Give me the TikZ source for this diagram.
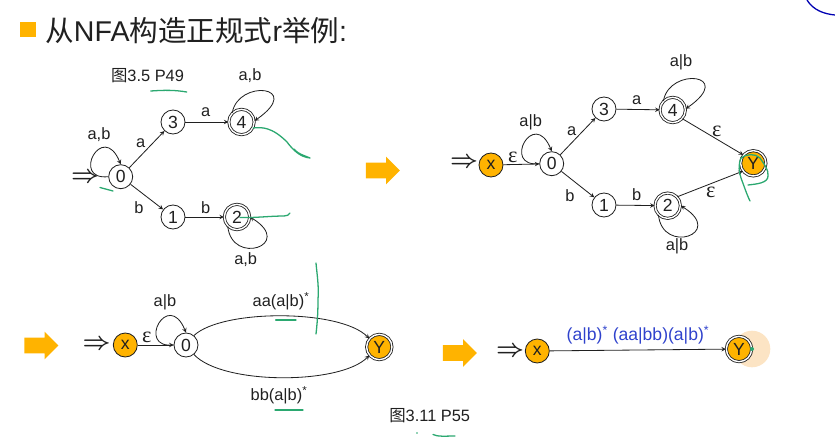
\documentclass[tikz,border=0pt]{standalone}
\usepackage{fontspec}
\usepackage{amsmath}
\usetikzlibrary{shapes.arrows}
\setmainfont{Liberation Sans}
\newfontfamily\cjk{Noto Sans CJK SC}
\newfontfamily\epsfont{Liberation Serif}
\definecolor{amber}{HTML}{FFB300}
\definecolor{halo}{HTML}{FCE4C4}
\definecolor{pen}{HTML}{2BA870}
\definecolor{inkblue}{HTML}{2F42CC}
\definecolor{inkdark}{HTML}{202020}
\newcommand{\eps}{{\epsfont\fontsize{19}{19}\selectfont ε}}
\newcommand{\impl}{\fontsize{21}{21}\selectfont$\boldsymbol{\Rightarrow}$}
\begin{document}
\begin{tikzpicture}[
		x=0.03cm, y=-0.03cm, line width=0.7pt, color=inkdark,
		state/.style={circle,draw,fill=white,inner sep=0pt,minimum size=0.72cm,font=\fontsize{15}{15}\selectfont},
		accept/.style={state,double,double distance=1.2pt,minimum size=0.76cm},
		startstate/.style={state,fill=amber},
		endstate/.style={accept,fill=amber},
		lbl/.style={inner sep=0pt,font=\fontsize{14}{16}\selectfont},
		stepto/.style={-stealth},
		goarrow/.style={single arrow,fill=amber,draw=none,inner sep=0.225cm,minimum height=1.02cm,
			single arrow head extend=0.18cm},
		penline/.style={pen,line width=1.1pt,line cap=round,line join=round}
		]
		\useasboundingbox (0,0) rectangle (835,448);
		
		% heading
		\fill[amber] (20,22) rectangle (36,37);
		\node[anchor=base west,inner sep=0pt,font=\fontsize{24.4}{28}\selectfont] (heading) at (45,41)
			{{\cjk 从}NFA{\cjk 构造正规式}r{\cjk 举例}:};
		\draw[blue!70!black,line width=1.1pt] (807,0) .. controls (813,10) and (824,14) .. (835,15);
		
		% first automaton
		\node[lbl] (figa) at (147.5,76) {{\cjk 图}3.5 P49};
		\node[lbl] (impa) at (85,178) {\impl};
		\node[state] (a0) at (120.7,176.7) {0};
		\node[state] (a3) at (173,122) {3};
		\node[accept] (a4) at (241.5,122) {4};
		\node[state] (a1) at (173,217) {1};
		\node[accept] (a2) at (237,217) {2};
		\draw[stepto] (a0) -- (a3);
		\draw[stepto] (a0) -- (a1);
		\draw[stepto] (a3) -- (a4);
		\draw[stepto] (a1) -- (a2);
		\draw[stepto] (a0.west) .. controls +(-38,4) and +(-18,-44) .. (a0.north);
		\draw[stepto] (a4.135) .. controls +(6,-34) and +(50,-35) .. (a4.5);
		\draw[stepto] (a2.225) .. controls +(4,40) and +(45,28) .. (a2.0);
		\node[lbl] (la1) at (99,135) {a,b};
		\node[lbl] (la2) at (140.7,143) {a};
		\node[lbl] (la3) at (139,208) {b};
		\node[lbl] (la4) at (205.7,112) {a};
		\node[lbl] (la5) at (205.7,208) {b};
		\node[lbl] (la6) at (250,76) {a,b};
		\node[lbl] (la7) at (245.7,260) {a,b};
		
		\node[goarrow] (goa) at (379,170.5) {};
		
		% second automaton
		\node[lbl] (impb) at (464,163) {\impl};
		\node[startstate] (bx) at (491,165) {x};
		\node[state] (b0) at (551.7,163.7) {0};
		\node[state] (b3) at (604,109) {3};
		\node[accept] (b4) at (672.7,110) {4};
		\node[state] (b1) at (604,205) {1};
		\node[accept] (b2) at (667.7,205.7) {2};
		\node[endstate] (bY) at (753.3,163.3) {Y};
		\draw[stepto] (bx) -- (b0);
		\draw[stepto] (b0) -- (b3);
		\draw[stepto] (b0) -- (b1);
		\draw[stepto] (b3) -- (b4);
		\draw[stepto] (b1) -- (b2);
		\draw[stepto] (b4.-42) -- (bY.140);
		\draw[stepto] (b2.43) -- (bY.217);
		\draw[stepto] (b0.west) .. controls +(-38,4) and +(-18,-44) .. (b0.north);
		\draw[stepto] (b4.135) .. controls +(6,-34) and +(50,-35) .. (b4.5);
		\draw[stepto] (b2.225) .. controls +(4,40) and +(45,28) .. (b2.0);
		\node[lbl] (lb1) at (530.7,122.7) {a|b};
		\node[lbl] (lb2) at (512.7,157) {\eps};
		\node[lbl] (lb3) at (571.7,130.7) {a};
		\node[lbl] (lb4) at (570,195.7) {b};
		\node[lbl] (lb5) at (636.7,100) {a};
		\node[lbl] (lb6) at (681,62) {a|b};
		\node[lbl] (lb7) at (716.7,131) {\eps};
		\node[lbl] (lb8) at (710.7,192) {\eps};
		\node[lbl] (lb9) at (636.7,195) {b};
		\node[lbl] (lb10) at (677,246.7) {a|b};
		
		% third automaton
		\node[goarrow] (gob) at (37.5,345.5) {};
		\node[lbl] (impc) at (96.7,345) {\impl};
		\node[startstate] (cx) at (125.3,345) {x};
		\node[state] (c0) at (186,345) {0};
		\node[endstate] (cY) at (379.3,347) {Y};
		\draw[stepto] (cx) -- (c0);
		\draw[stepto] (c0.west) .. controls +(-38,4) and +(-18,-44) .. (c0.north);
		\draw[stepto] (c0.50) .. controls (222,309) and (340,309) .. (cY.140);
		\draw[stepto] (c0.-50) .. controls (222,385) and (340,385) .. (cY.-140);
		\node[lbl] (lc1) at (165,302.7) {a|b};
		\node[lbl] (lc2) at (146.7,337) {\eps};
		\node[lbl] (lc3) at (281,301.7) {aa(a|b)\textsuperscript{*}};
		\node[lbl] (lc4) at (279,395) {bb(a|b)\textsuperscript{*}};
		\node[lbl] (figb) at (429.7,416) {{\cjk 图}3.11 P55};
		
		% last automaton
		\node[goarrow] (goc) at (456,353) {};
		\fill[halo] (752,349) circle (18.3);
		\node[lbl] (impd) at (510,351.7) {\impl};
		\node[startstate] (dx) at (537.3,351) {x};
		\node[endstate] (dY) at (739,349) {Y};
		\draw[stepto] (dx) -- (dY);
		\node[lbl,text=inkblue,font=\fontsize{15}{16}\selectfont] (ld1) at (638,335) {(a|b)\textsuperscript{*} (aa|bb)(a|b)\textsuperscript{*}};
		\fill[pen] (752,349) circle (2);
		
		% pen marks
		\draw[penline] (150.7,91) .. controls (165,90) and (175,90) .. (186.7,92);
		\draw[penline] (100,187.5) -- (113,191);
		\draw[penline] (253,128) .. controls (262,127) and (272,127) .. (287,142) .. controls (293,150) and (300,157) .. (310,158) .. controls (303,155) and (298,154) .. (294,149);
		\draw[penline] (240,217.5) .. controls (255,218) and (270,216) .. (284,216) .. controls (287,216) and (289,215) .. (290,213);
		\draw[penline] (316,263) .. controls (317,275) and (319,285) .. (318,300) .. controls (318,315) and (317,325) .. (316,334);
		\draw[penline] (275.7,320) -- (296,320);
		\draw[penline] (275,410) -- (303,410);
		\draw[penline] (433,434.5) .. controls (438,437) and (445,436) .. (455,436);
		\fill[pen] (417,433) circle (0.8);
		\draw[penline] (741,158) .. controls (746,154) and (755,153) .. (760,158) .. controls (764,164) and (769,170) .. (768,176) .. controls (768,183) and (757,184) .. (748,185);
		\draw[penline] (741,158) .. controls (738,165) and (739,172) .. (741,178) .. controls (744,186) and (747,195) .. (750,201);
	\end{tikzpicture}
\end{document}
